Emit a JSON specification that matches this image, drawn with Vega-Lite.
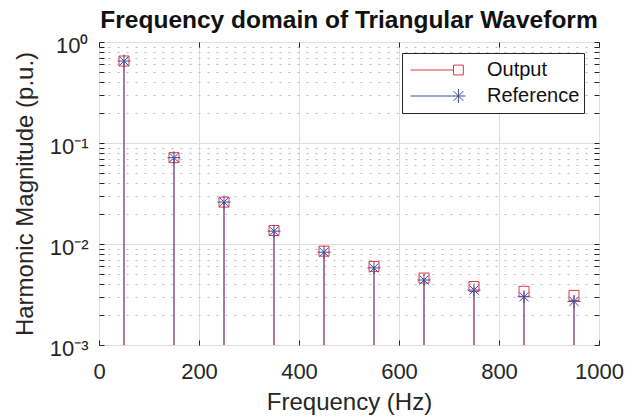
{
  "$schema": "https://vega.github.io/schema/vega-lite/v6.json",
  "width": 500,
  "height": 303,
  "autosize": {"type": "none"},
  "padding": {"left": 99, "top": 42, "right": 43, "bottom": 73},
  "background": "white",
  "config": {
    "font": "Liberation Sans",
    "view": {"stroke": "#262626", "strokeWidth": 1},
    "legend": {
      "orient": "none",
      "legendX": 303,
      "legendY": 11,
      "strokeColor": "#262626",
      "fillColor": "white",
      "padding": 4,
      "symbolSize": 3364,
      "symbolStrokeWidth": 1,
      "symbolOpacity": 1,
      "labelFontSize": 20,
      "labelColor": "#111111",
      "labelFont": "Liberation Sans",
      "labelOffset": 22,
      "rowPadding": 0,
      "clipHeight": 26
    }
  },
  "title": {
    "text": "Frequency domain of Triangular Waveform",
    "fontSize": 24.5,
    "fontWeight": "bold",
    "color": "#111111",
    "font": "Liberation Sans",
    "anchor": "middle",
    "frame": "group",
    "offset": 6,
    "dy": 5
  },
  "data": {
    "values": [
      {"series": "Output", "freq": 50, "value": 0.648},
      {"series": "Output", "freq": 150, "value": 0.0716},
      {"series": "Output", "freq": 250, "value": 0.026},
      {"series": "Output", "freq": 350, "value": 0.0136},
      {"series": "Output", "freq": 450, "value": 0.0085},
      {"series": "Output", "freq": 550, "value": 0.006},
      {"series": "Output", "freq": 650, "value": 0.0046},
      {"series": "Output", "freq": 750, "value": 0.0038},
      {"series": "Output", "freq": 850, "value": 0.0034},
      {"series": "Output", "freq": 950, "value": 0.0031},
      {"series": "Reference", "freq": 50, "value": 0.648},
      {"series": "Reference", "freq": 150, "value": 0.0716},
      {"series": "Reference", "freq": 250, "value": 0.026},
      {"series": "Reference", "freq": 350, "value": 0.0134},
      {"series": "Reference", "freq": 450, "value": 0.0083},
      {"series": "Reference", "freq": 550, "value": 0.0058},
      {"series": "Reference", "freq": 650, "value": 0.0044},
      {"series": "Reference", "freq": 750, "value": 0.0035},
      {"series": "Reference", "freq": 850, "value": 0.003},
      {"series": "Reference", "freq": 950, "value": 0.0027}
    ]
  },
  "layer": [
    {
      "transform": [{"filter": "datum.series == 'Output'"}],
      "mark": {"type": "rule", "color": "#e8363d", "strokeWidth": 1},
      "encoding": {
        "x": {
          "field": "freq", "type": "quantitative",
          "scale": {"domain": [0, 1000], "nice": false, "zero": false},
          "axis": {
            "values": [0, 200, 400, 600, 800, 1000],
            "format": "d",
            "title": "Frequency (Hz)",
            "titleFontSize": 24,
            "titleFontWeight": "normal",
            "titleColor": "#262626",
            "titlePadding": 8,
            "labelFontSize": 22,
            "labelColor": "#262626",
            "labelPadding": 21,
            "labelFlush": false,
            "labelOverlap": false,
            "tickSize": -5,
            "tickColor": "#262626",
            "domain": false,
            "grid": true,
            "gridColor": "#dedede"
          }
        },
        "y": {
          "field": "value", "type": "quantitative",
          "scale": {"type": "log", "domain": [0.001, 1], "nice": false},
          "axis": {
            "values": [0.001, 0.002, 0.003, 0.004, 0.005, 0.006, 0.007, 0.008, 0.009, 0.01, 0.02, 0.03, 0.04, 0.05, 0.06, 0.07, 0.08, 0.09, 0.1, 0.2, 0.3, 0.4, 0.5, 0.6, 0.7, 0.8, 0.9, 1],
            "labelExpr": "datum.value == 1 ? '10⁰' : datum.value == 0.1 ? '10⁻¹' : datum.value == 0.01 ? '10⁻²' : datum.value == 0.001 ? '10⁻³' : ''",
            "title": "Harmonic Magnitude (p.u.)",
            "titleFontSize": 24,
            "titleFontWeight": "normal",
            "titleColor": "#262626",
            "titlePadding": 12,
            "labelFontSize": 22,
            "labelColor": "#262626",
            "labelPadding": 16,
            "labelOffset": 3,
            "labelFlush": false,
            "labelOverlap": false,
            "tickColor": "#262626",
            "tickSize": -5,
            "domain": false,
            "grid": true,
            "gridColor": {"condition": {"test": "datum.value == 1 || datum.value == 0.1 || datum.value == 0.01 || datum.value == 0.001", "value": "#dedede"}, "value": "#bbbbbb"},
            "gridDash": {"condition": {"test": "datum.value == 1 || datum.value == 0.1 || datum.value == 0.01 || datum.value == 0.001", "value": []}, "value": [2, 7]}
          }
        },
        "y2": {"datum": 0.001}
      }
    },
    {
      "transform": [{"filter": "datum.series == 'Reference'"}],
      "mark": {"type": "rule", "color": "#3a4da1", "strokeWidth": 1, "opacity": 0.8},
      "encoding": {
        "x": {
          "field": "freq", "type": "quantitative",
          "scale": {"domain": [0, 1000], "nice": false, "zero": false},
          "axis": {
            "orient": "top",
            "values": [0, 200, 400, 600, 800, 1000],
            "title": null,
            "labels": false,
            "tickSize": -5,
            "tickColor": "#262626",
            "domain": false,
            "grid": false
          }
        },
        "y": {
          "field": "value", "type": "quantitative",
          "scale": {"type": "log", "domain": [0.001, 1], "nice": false},
          "axis": {
            "orient": "right",
            "values": [0.001, 0.002, 0.003, 0.004, 0.005, 0.006, 0.007, 0.008, 0.009, 0.01, 0.02, 0.03, 0.04, 0.05, 0.06, 0.07, 0.08, 0.09, 0.1, 0.2, 0.3, 0.4, 0.5, 0.6, 0.7, 0.8, 0.9, 1],
            "title": null,
            "labels": false,
            "tickSize": -5,
            "tickColor": "#262626",
            "domain": false,
            "grid": false
          }
        },
        "y2": {"datum": 0.001}
      }
    },
    {
      "transform": [{"filter": "datum.series == 'Output'"}],
      "mark": {"type": "point", "shape": "square", "size": 100, "filled": false, "color": "#e8363d", "strokeWidth": 1, "opacity": 1},
      "encoding": {
        "x": {"field": "freq", "type": "quantitative", "axis": null},
        "y": {"field": "value", "type": "quantitative", "axis": null}
      }
    },
    {
      "transform": [{"filter": "datum.series == 'Reference'"}],
      "mark": {"type": "point", "shape": "M0,-1V1M-1,0H1M-0.7,-0.7L0.7,0.7M-0.7,0.7L0.7,-0.7", "size": 169, "filled": false, "color": "#3a4da1", "strokeWidth": 1, "opacity": 1},
      "encoding": {
        "x": {"field": "freq", "type": "quantitative", "axis": null},
        "y": {"field": "value", "type": "quantitative", "axis": null}
      }
    },
    {
      "mark": {"type": "point", "filled": false, "opacity": 0, "strokeWidth": 1},
      "encoding": {
        "x": {"field": "freq", "type": "quantitative", "axis": null},
        "y": {"field": "value", "type": "quantitative", "axis": null},
        "color": {
          "field": "series", "type": "nominal", "title": null,
          "scale": {"domain": ["Output", "Reference"], "range": ["#e8363d", "#3a4da1"]}
        },
        "shape": {
          "field": "series", "type": "nominal", "title": null,
          "scale": {"domain": ["Output", "Reference"], "range": ["M-0.86,0H0.62M0.62,-0.17H0.96V0.17H0.62Z", "M-0.86,0H1.03M0.79,-0.24V0.24M0.62,-0.17L0.96,0.17M0.62,0.17L0.96,-0.17"]}
        }
      }
    }
  ],
  "resolve": {"axis": {"x": "independent", "y": "independent"}}
}
